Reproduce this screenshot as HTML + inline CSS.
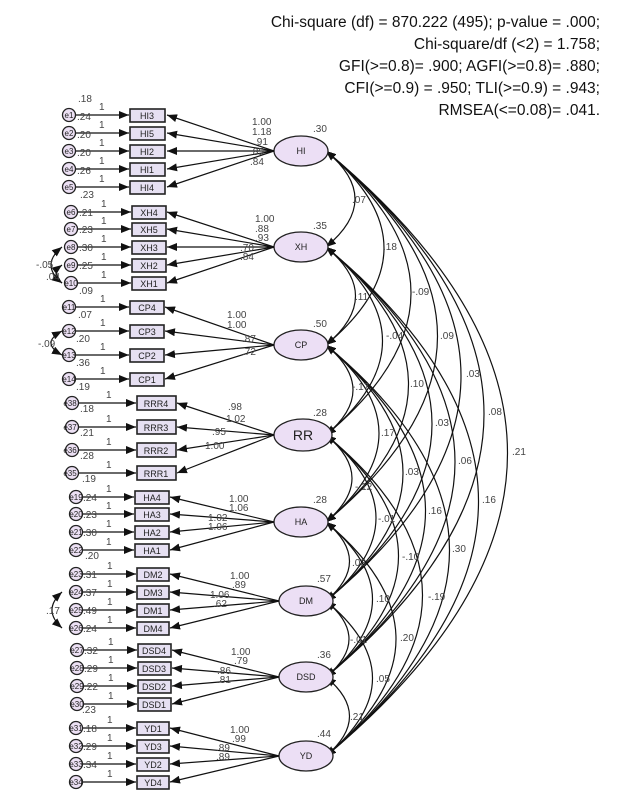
<!DOCTYPE html>
<html><head><meta charset="utf-8"><style>
body{margin:0;background:#fff}
svg{display:block;font-family:"Liberation Sans",Arial,sans-serif}
.n{font-size:10px;fill:#444}
.b{fill:#e6e0f2;stroke:#222;stroke-width:1.6}
.l{fill:#ecdff5;stroke:#222;stroke-width:1.3}
.t{font-size:9px;fill:#222;text-anchor:middle}
.e{fill:#ece0f4;stroke:#222;stroke-width:1.3}
.et{font-size:8px;fill:#222;text-anchor:middle}
.h{font-size:15.5px;fill:#111;text-anchor:end}
path,line{fill:none;stroke:#111;stroke-width:1.2}
</style></head><body>
<svg width="618" height="800" viewBox="0 0 618 800">
<defs>
<marker id="a" markerWidth="10" markerHeight="8" refX="10" refY="4" orient="auto" markerUnits="userSpaceOnUse"><path d="M0,0 L10,4 L0,8 z" style="fill:#111;stroke:none"/></marker>
<marker id="s" markerWidth="10" markerHeight="8" refX="10" refY="4" orient="auto-start-reverse" markerUnits="userSpaceOnUse"><path d="M0,0 L10,4 L0,8 z" style="fill:#111;stroke:none"/></marker>
</defs>
<text class="h" x="600" y="27">Chi-square (df) = 870.222 (495); p-value = .000;</text>
<text class="h" x="600" y="49">Chi-square/df (&lt;2) = 1.758;</text>
<text class="h" x="600" y="71">GFI(&gt;=0.8)= .900; AGFI(&gt;=0.8)= .880;</text>
<text class="h" x="600" y="93">CFI(&gt;=0.9) = .950; TLI(&gt;=0.9) = .943;</text>
<text class="h" x="600" y="115">RMSEA(&lt;=0.08)= .041.</text>

<!-- covariances -->
<g marker-start="url(#s)" marker-end="url(#s)">
<path d="M326 151 Q384 199 326 247"/><path d="M326 151 Q442 248 326 345"/><path d="M326 151 Q496 293 326 435"/><path d="M326 151 Q549 336 326 522"/><path d="M326 151 Q596 376 326 601"/><path d="M326 151 Q642 414 326 677"/><path d="M326 151 Q689 453 326 756"/>
<path d="M326 247 Q385 296 326 345"/><path d="M326 247 Q439 341 326 435"/><path d="M326 247 Q491 384 326 522"/><path d="M326 247 Q538 424 326 601"/><path d="M326 247 Q584 462 326 677"/><path d="M326 247 Q631 501 326 756"/>
<path d="M326 345 Q380 390 326 435"/><path d="M326 345 Q432 433 326 522"/><path d="M326 345 Q480 473 326 601"/><path d="M326 345 Q525 511 326 677"/><path d="M326 345 Q573 550 326 756"/>
<path d="M326 435 Q378 478 326 522"/><path d="M326 435 Q426 518 326 601"/><path d="M326 435 Q471 556 326 677"/><path d="M326 435 Q519 595 326 756"/>
<path d="M326 522 Q373 561 326 601"/><path d="M326 522 Q419 599 326 677"/><path d="M326 522 Q466 639 326 756"/>
<path d="M326 601 Q372 639 326 677"/><path d="M326 601 Q419 678 326 756"/>
<path d="M326 677 Q373 716 326 756"/>
</g>
<g class="n">
<text x="352" y="203">.07</text><text x="383" y="250">.18</text><text x="412" y="295">-.09</text><text x="440" y="339">.09</text><text x="466" y="377">.03</text><text x="488" y="415">.08</text><text x="512" y="455">.21</text>
<text x="355" y="300">.11</text><text x="386" y="339">-.04</text><text x="410" y="387">.10</text><text x="435" y="426">.03</text><text x="458" y="464">.06</text><text x="482" y="503">.16</text>
<text x="352" y="390">-.17</text><text x="381" y="436">.17</text><text x="405" y="475">.03</text><text x="428" y="514">.16</text><text x="452" y="552">.30</text>
<text x="355" y="490">-.12</text><text x="378" y="522">-.01</text><text x="402" y="560">-.10</text><text x="428" y="600">-.19</text>
<text x="352" y="566">.03</text><text x="376" y="602">.10</text><text x="400" y="641">.20</text>
<text x="350" y="643">-.01</text><text x="376" y="682">.05</text>
<text x="350" y="720">.21</text>
</g>

<!-- latent ellipses -->
<g>
<ellipse class="l" cx="301" cy="151" rx="27" ry="15"/><text class="t" x="301" y="154">HI</text><text class="n" x="313" y="132">.30</text>
<ellipse class="l" cx="301" cy="247" rx="27" ry="15"/><text class="t" x="301" y="250">XH</text><text class="n" x="313" y="229">.35</text>
<ellipse class="l" cx="301" cy="345" rx="27" ry="15"/><text class="t" x="301" y="348">CP</text><text class="n" x="313" y="327">.50</text>
<ellipse class="l" cx="303" cy="435" rx="29" ry="16"/><text x="303" y="440" style="font-size:14px;text-anchor:middle;fill:#222">RR</text><text class="n" x="313" y="416">.28</text>
<ellipse class="l" cx="301" cy="522" rx="27" ry="15"/><text class="t" x="301" y="525">HA</text><text class="n" x="313" y="503">.28</text>
<ellipse class="l" cx="306" cy="601" rx="27" ry="15"/><text class="t" x="306" y="604">DM</text><text class="n" x="317" y="582">.57</text>
<ellipse class="l" cx="306" cy="677" rx="27" ry="15"/><text class="t" x="306" y="680">DSD</text><text class="n" x="317" y="658">.36</text>
<ellipse class="l" cx="306" cy="756" rx="27" ry="15"/><text class="t" x="306" y="759">YD</text><text class="n" x="317" y="737">.44</text>
</g>

<!-- loadings -->
<g marker-end="url(#a)">
<line x1="274" y1="151" x2="167" y2="115"/><line x1="274" y1="151" x2="167" y2="133"/><line x1="274" y1="151" x2="167" y2="151"/><line x1="274" y1="151" x2="167" y2="169"/><line x1="274" y1="151" x2="167" y2="187"/>
<line x1="274" y1="247" x2="167" y2="212"/><line x1="274" y1="247" x2="167" y2="229"/><line x1="274" y1="247" x2="167" y2="247"/><line x1="274" y1="247" x2="167" y2="265"/><line x1="274" y1="247" x2="167" y2="283"/>
<line x1="274" y1="345" x2="165" y2="307"/><line x1="274" y1="345" x2="165" y2="331"/><line x1="274" y1="345" x2="165" y2="355"/><line x1="274" y1="345" x2="165" y2="379"/>
<line x1="274" y1="435" x2="177" y2="403"/><line x1="274" y1="435" x2="177" y2="427"/><line x1="274" y1="435" x2="177" y2="450"/><line x1="274" y1="435" x2="177" y2="473"/>
<line x1="274" y1="522" x2="170" y2="497"/><line x1="274" y1="522" x2="170" y2="514"/><line x1="274" y1="522" x2="170" y2="532"/><line x1="274" y1="522" x2="170" y2="550"/>
<line x1="279" y1="601" x2="170" y2="574"/><line x1="279" y1="601" x2="170" y2="592"/><line x1="279" y1="601" x2="170" y2="610"/><line x1="279" y1="601" x2="170" y2="628"/>
<line x1="279" y1="677" x2="172" y2="650"/><line x1="279" y1="677" x2="172" y2="668"/><line x1="279" y1="677" x2="172" y2="686"/><line x1="279" y1="677" x2="172" y2="704"/>
<line x1="279" y1="756" x2="170" y2="728"/><line x1="279" y1="756" x2="170" y2="746"/><line x1="279" y1="756" x2="170" y2="764"/><line x1="279" y1="756" x2="170" y2="782"/>
</g>
<g class="n">
<text x="252" y="125">1.00</text><text x="252" y="135">1.18</text><text x="254" y="145">.91</text><text x="250" y="155">.85</text><text x="250" y="165">.84</text>
<text x="255" y="222">1.00</text><text x="255" y="232">.88</text><text x="255" y="241">.93</text><text x="240" y="251">.70</text><text x="240" y="260">.84</text>
<text x="227" y="318">1.00</text><text x="227" y="328">1.00</text><text x="242" y="342">.87</text><text x="242" y="355">.72</text>
<text x="228" y="410">.98</text><text x="226" y="422">1.02</text><text x="212" y="435">.95</text><text x="205" y="449">1.00</text>
<text x="229" y="502">1.00</text><text x="229" y="511">1.06</text><text x="208" y="521">1.02</text><text x="208" y="530">1.06</text>
<text x="230" y="579">1.00</text><text x="232" y="588">.89</text><text x="210" y="598">1.06</text><text x="213" y="607">.62</text>
<text x="231" y="655">1.00</text><text x="234" y="664">.79</text><text x="217" y="674">.86</text><text x="217" y="683">.81</text>
<text x="230" y="733">1.00</text><text x="232" y="742">.99</text><text x="216" y="751">.89</text><text x="216" y="760">.89</text>
</g>

<!-- error arrows -->
<g marker-end="url(#a)">
<line x1="75" y1="115" x2="129" y2="115"/><line x1="75" y1="133" x2="129" y2="133"/><line x1="75" y1="151" x2="129" y2="151"/><line x1="75" y1="169" x2="129" y2="169"/><line x1="75" y1="187" x2="129" y2="187"/>
<line x1="75" y1="212" x2="131" y2="212"/><line x1="75" y1="229" x2="131" y2="229"/><line x1="75" y1="247" x2="131" y2="247"/><line x1="75" y1="265" x2="131" y2="265"/><line x1="75" y1="283" x2="131" y2="283"/>
<line x1="75" y1="307" x2="129" y2="307"/><line x1="75" y1="331" x2="129" y2="331"/><line x1="75" y1="355" x2="129" y2="355"/><line x1="75" y1="379" x2="129" y2="379"/>
<line x1="75" y1="403" x2="136" y2="403"/><line x1="75" y1="427" x2="136" y2="427"/><line x1="75" y1="450" x2="136" y2="450"/><line x1="75" y1="473" x2="136" y2="473"/>
<line x1="75" y1="497" x2="134" y2="497"/><line x1="75" y1="514" x2="134" y2="514"/><line x1="75" y1="532" x2="134" y2="532"/><line x1="75" y1="550" x2="134" y2="550"/>
<line x1="75" y1="574" x2="136" y2="574"/><line x1="75" y1="592" x2="136" y2="592"/><line x1="75" y1="610" x2="136" y2="610"/><line x1="75" y1="628" x2="136" y2="628"/>
<line x1="75" y1="650" x2="137" y2="650"/><line x1="75" y1="668" x2="137" y2="668"/><line x1="75" y1="686" x2="137" y2="686"/><line x1="75" y1="704" x2="137" y2="704"/>
<line x1="75" y1="728" x2="136" y2="728"/><line x1="75" y1="746" x2="136" y2="746"/><line x1="75" y1="764" x2="136" y2="764"/><line x1="75" y1="782" x2="136" y2="782"/>
</g>
<!-- error covariances -->
<g marker-start="url(#s)" marker-end="url(#s)">
<path d="M62 247 Q40 265 62 283"/><path d="M62 265 Q50 274 62 283"/><path d="M62 331 Q40 343 62 355"/><path d="M62 592 Q42 610 62 628"/>
</g>
<g class="n"><text x="36" y="268">-.05</text><text x="46" y="280">.04</text><text x="38" y="347">-.09</text><text x="46" y="614">.17</text></g>

<!-- boxes -->
<g>
<rect class="b" x="130" y="109" width="35" height="13"/><text class="t" x="147" y="119">HI3</text>
<rect class="b" x="130" y="127" width="35" height="13"/><text class="t" x="147" y="137">HI5</text>
<rect class="b" x="130" y="145" width="35" height="13"/><text class="t" x="147" y="155">HI2</text>
<rect class="b" x="130" y="163" width="35" height="13"/><text class="t" x="147" y="173">HI1</text>
<rect class="b" x="130" y="181" width="35" height="13"/><text class="t" x="147" y="191">HI4</text>
<rect class="b" x="132" y="206" width="34" height="13"/><text class="t" x="149" y="216">XH4</text>
<rect class="b" x="132" y="223" width="34" height="13"/><text class="t" x="149" y="233">XH5</text>
<rect class="b" x="132" y="241" width="34" height="13"/><text class="t" x="149" y="251">XH3</text>
<rect class="b" x="132" y="259" width="34" height="13"/><text class="t" x="149" y="269">XH2</text>
<rect class="b" x="132" y="277" width="34" height="13"/><text class="t" x="149" y="287">XH1</text>
<rect class="b" x="130" y="301" width="34" height="13"/><text class="t" x="147" y="311">CP4</text>
<rect class="b" x="130" y="325" width="34" height="13"/><text class="t" x="147" y="335">CP3</text>
<rect class="b" x="130" y="349" width="34" height="13"/><text class="t" x="147" y="359">CP2</text>
<rect class="b" x="130" y="373" width="34" height="13"/><text class="t" x="147" y="383">CP1</text>
<rect class="b" x="137" y="396" width="39" height="14"/><text class="t" x="156" y="407">RRR4</text>
<rect class="b" x="137" y="420" width="39" height="14"/><text class="t" x="156" y="431">RRR3</text>
<rect class="b" x="137" y="443" width="39" height="14"/><text class="t" x="156" y="454">RRR2</text>
<rect class="b" x="137" y="466" width="39" height="14"/><text class="t" x="156" y="477">RRR1</text>
<rect class="b" x="135" y="491" width="34" height="13"/><text class="t" x="152" y="501">HA4</text>
<rect class="b" x="135" y="508" width="34" height="13"/><text class="t" x="152" y="518">HA3</text>
<rect class="b" x="135" y="526" width="34" height="13"/><text class="t" x="152" y="536">HA2</text>
<rect class="b" x="135" y="544" width="34" height="13"/><text class="t" x="152" y="554">HA1</text>
<rect class="b" x="137" y="568" width="32" height="13"/><text class="t" x="153" y="578">DM2</text>
<rect class="b" x="137" y="586" width="32" height="13"/><text class="t" x="153" y="596">DM3</text>
<rect class="b" x="137" y="604" width="32" height="13"/><text class="t" x="153" y="614">DM1</text>
<rect class="b" x="137" y="622" width="32" height="13"/><text class="t" x="153" y="632">DM4</text>
<rect class="b" x="138" y="644" width="33" height="13"/><text class="t" x="154" y="654">DSD4</text>
<rect class="b" x="138" y="662" width="33" height="13"/><text class="t" x="154" y="672">DSD3</text>
<rect class="b" x="138" y="680" width="33" height="13"/><text class="t" x="154" y="690">DSD2</text>
<rect class="b" x="138" y="698" width="33" height="13"/><text class="t" x="154" y="708">DSD1</text>
<rect class="b" x="137" y="722" width="32" height="13"/><text class="t" x="153" y="732">YD1</text>
<rect class="b" x="137" y="740" width="32" height="13"/><text class="t" x="153" y="750">YD3</text>
<rect class="b" x="137" y="758" width="32" height="13"/><text class="t" x="153" y="768">YD2</text>
<rect class="b" x="137" y="776" width="32" height="13"/><text class="t" x="153" y="786">YD4</text>
</g>

<!-- error circles -->
<g>
<circle class="e" cx="69" cy="115" r="6.5"/><text class="et" x="69" y="118">e1</text>
<circle class="e" cx="69" cy="133" r="6.5"/><text class="et" x="69" y="136">e2</text>
<circle class="e" cx="69" cy="151" r="6.5"/><text class="et" x="69" y="154">e3</text>
<circle class="e" cx="69" cy="169" r="6.5"/><text class="et" x="69" y="172">e4</text>
<circle class="e" cx="69" cy="187" r="6.5"/><text class="et" x="69" y="190">e5</text>
<circle class="e" cx="71" cy="212" r="6.5"/><text class="et" x="71" y="215">e6</text>
<circle class="e" cx="71" cy="229" r="6.5"/><text class="et" x="71" y="232">e7</text>
<circle class="e" cx="71" cy="247" r="6.5"/><text class="et" x="71" y="250">e8</text>
<circle class="e" cx="71" cy="265" r="6.5"/><text class="et" x="71" y="268">e9</text>
<circle class="e" cx="71" cy="283" r="6.5"/><text class="et" x="71" y="286">e10</text>
<circle class="e" cx="69" cy="307" r="6.5"/><text class="et" x="69" y="310">e11</text>
<circle class="e" cx="69" cy="331" r="6.5"/><text class="et" x="69" y="334">e12</text>
<circle class="e" cx="69" cy="355" r="6.5"/><text class="et" x="69" y="358">e13</text>
<circle class="e" cx="69" cy="379" r="6.5"/><text class="et" x="69" y="382">e14</text>
<circle class="e" cx="72" cy="403" r="6.5"/><text class="et" x="70" y="406">e38</text>
<circle class="e" cx="72" cy="427" r="6.5"/><text class="et" x="70" y="430">e37</text>
<circle class="e" cx="72" cy="450" r="6.5"/><text class="et" x="70" y="453">e36</text>
<circle class="e" cx="72" cy="473" r="6.5"/><text class="et" x="70" y="476">e35</text>
<circle class="e" cx="76" cy="497" r="6.5"/><text class="et" x="76" y="500">e19</text>
<circle class="e" cx="76" cy="514" r="6.5"/><text class="et" x="76" y="517">e20</text>
<circle class="e" cx="76" cy="532" r="6.5"/><text class="et" x="76" y="535">e21</text>
<circle class="e" cx="76" cy="550" r="6.5"/><text class="et" x="76" y="553">e22</text>
<circle class="e" cx="76" cy="574" r="6.5"/><text class="et" x="76" y="577">e23</text>
<circle class="e" cx="76" cy="592" r="6.5"/><text class="et" x="76" y="595">e24</text>
<circle class="e" cx="76" cy="610" r="6.5"/><text class="et" x="76" y="613">e25</text>
<circle class="e" cx="76" cy="628" r="6.5"/><text class="et" x="76" y="631">e26</text>
<circle class="e" cx="77" cy="650" r="6.5"/><text class="et" x="77" y="653">e27</text>
<circle class="e" cx="77" cy="668" r="6.5"/><text class="et" x="77" y="671">e28</text>
<circle class="e" cx="77" cy="686" r="6.5"/><text class="et" x="77" y="689">e29</text>
<circle class="e" cx="77" cy="704" r="6.5"/><text class="et" x="77" y="707">e30</text>
<circle class="e" cx="76" cy="728" r="6.5"/><text class="et" x="76" y="731">e31</text>
<circle class="e" cx="76" cy="746" r="6.5"/><text class="et" x="76" y="749">e32</text>
<circle class="e" cx="76" cy="764" r="6.5"/><text class="et" x="76" y="767">e33</text>
<circle class="e" cx="76" cy="782" r="6.5"/><text class="et" x="76" y="785">e34</text>
</g>

<!-- error variances and 1s -->
<g class="n">
<text x="78" y="102">.18</text><text x="77" y="120">.24</text><text x="77" y="138">.20</text><text x="77" y="156">.20</text><text x="77" y="174">.26</text><text x="80" y="198">.23</text>
<text x="79" y="216">.21</text><text x="79" y="233">.23</text><text x="79" y="251">.30</text><text x="79" y="269">.25</text><text x="79" y="294">.09</text>
<text x="78" y="318">.07</text><text x="76" y="342">.20</text><text x="76" y="366">.36</text><text x="76" y="390">.19</text>
<text x="80" y="412">.18</text><text x="80" y="436">.21</text><text x="80" y="459">.28</text><text x="82" y="482">.19</text>
<text x="83" y="501">.24</text><text x="83" y="518">.23</text><text x="83" y="536">.30</text><text x="85" y="559">.20</text>
<text x="83" y="578">.31</text><text x="83" y="596">.37</text><text x="83" y="614">.49</text><text x="83" y="632">.24</text>
<text x="84" y="654">.32</text><text x="84" y="672">.29</text><text x="84" y="690">.22</text><text x="82" y="713">.23</text>
<text x="83" y="732">.18</text><text x="83" y="750">.29</text><text x="83" y="768">.34</text>
</g>
<g class="n">
<text x="99" y="110">1</text><text x="99" y="128">1</text><text x="99" y="146">1</text><text x="99" y="164">1</text><text x="99" y="182">1</text>
<text x="101" y="207">1</text><text x="101" y="224">1</text><text x="101" y="242">1</text><text x="101" y="260">1</text><text x="101" y="278">1</text>
<text x="100" y="302">1</text><text x="100" y="326">1</text><text x="100" y="350">1</text><text x="100" y="374">1</text>
<text x="106" y="398">1</text><text x="106" y="422">1</text><text x="106" y="445">1</text><text x="106" y="468">1</text>
<text x="106" y="492">1</text><text x="106" y="509">1</text><text x="106" y="527">1</text><text x="106" y="545">1</text>
<text x="107" y="569">1</text><text x="107" y="587">1</text><text x="107" y="605">1</text><text x="107" y="623">1</text>
<text x="108" y="645">1</text><text x="108" y="663">1</text><text x="108" y="681">1</text><text x="108" y="699">1</text>
<text x="107" y="723">1</text><text x="107" y="741">1</text><text x="107" y="759">1</text><text x="107" y="777">1</text>
</g>
</svg>
</body></html>
